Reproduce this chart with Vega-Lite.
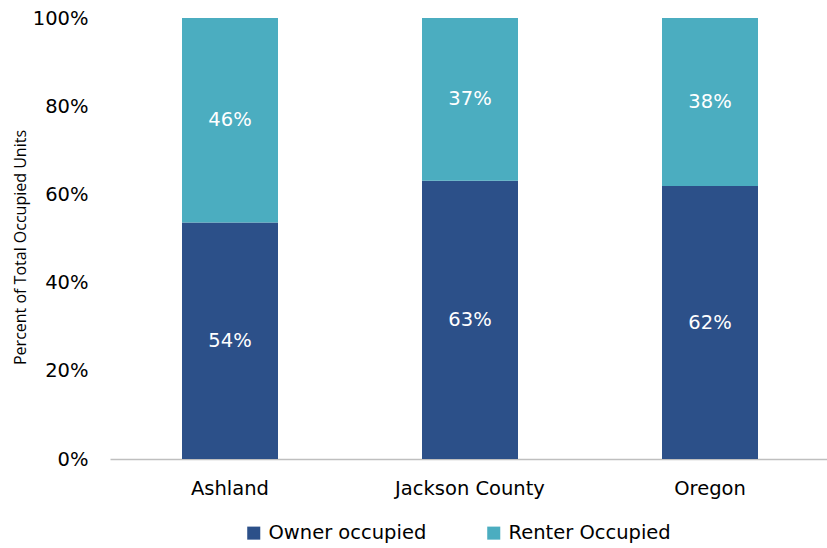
{
  "$schema": "https://vega.github.io/schema/vega-lite/v6.json",
  "width": 720,
  "height": 441,
  "autosize": {"type": "none"},
  "padding": {"left": 110, "top": 18, "right": 0, "bottom": 89},
  "background": "white",
  "config": {
    "view": {"stroke": null},
    "font": "DejaVu Sans"
  },
  "data": {
    "values": [
      {"place": "Ashland", "tenure": "Owner occupied", "share": 0.536},
      {"place": "Ashland", "tenure": "Renter Occupied", "share": 0.464},
      {"place": "Jackson County", "tenure": "Owner occupied", "share": 0.631},
      {"place": "Jackson County", "tenure": "Renter Occupied", "share": 0.369},
      {"place": "Oregon", "tenure": "Owner occupied", "share": 0.619},
      {"place": "Oregon", "tenure": "Renter Occupied", "share": 0.381}
    ]
  },
  "transform": [
    {"calculate": "datum.tenure === 'Owner occupied' ? 0 : 1", "as": "ord"},
    {"stack": "share", "groupby": ["place"], "sort": [{"field": "ord", "order": "ascending"}], "as": ["s0", "s1"]},
    {"calculate": "(datum.s0 + datum.s1) / 2", "as": "mid"}
  ],
  "encoding": {
    "x": {
      "field": "place", "type": "nominal",
      "scale": {"paddingInner": 0.6, "paddingOuter": 0.3},
      "axis": {"title": null, "labelAngle": 0, "labelFont": "DejaVu Sans", "labelFontSize": 19.5, "labelColor": "#000000", "labelPadding": 20, "ticks": false, "domainColor": "#bfbfbf", "domainWidth": 1.5}
    }
  },
  "layer": [
    {
      "mark": {"type": "bar"},
      "encoding": {
        "y": {
          "field": "s0", "type": "quantitative",
          "scale": {"domain": [0, 1]},
          "axis": {"title": "Percent of Total Occupied Units", "titleFont": "Open Sans", "titleFontSize": 16, "titleFontWeight": "normal", "titleColor": "#000000", "titlePadding": 4, "titleY": 229, "format": ".0%", "values": [0, 0.2, 0.4, 0.6, 0.8, 1], "labelFont": "DejaVu Sans", "labelFontSize": 19.5, "labelColor": "#000000", "labelPadding": 22, "ticks": false, "domain": false, "grid": false}
        },
        "y2": {"field": "s1"},
        "color": {
          "field": "tenure", "type": "nominal",
          "scale": {"domain": ["Owner occupied", "Renter Occupied"], "range": ["#2c5089", "#4badc0"]},
          "legend": {"title": null, "orient": "none", "legendX": 134, "legendY": 505, "direction": "horizontal", "symbolType": "square", "symbolSize": 170, "symbolStrokeWidth": 0, "labelFont": "DejaVu Sans", "labelFontSize": 19.5, "labelColor": "#000000", "labelLimit": 400, "columnPadding": 57, "labelOffset": 5}
        }
      }
    },
    {
      "mark": {"type": "text", "color": "white", "fontSize": 19.5, "font": "DejaVu Sans"},
      "encoding": {
        "y": {"field": "mid", "type": "quantitative"},
        "text": {"field": "share", "type": "quantitative", "format": ".0%"}
      }
    }
  ]
}
